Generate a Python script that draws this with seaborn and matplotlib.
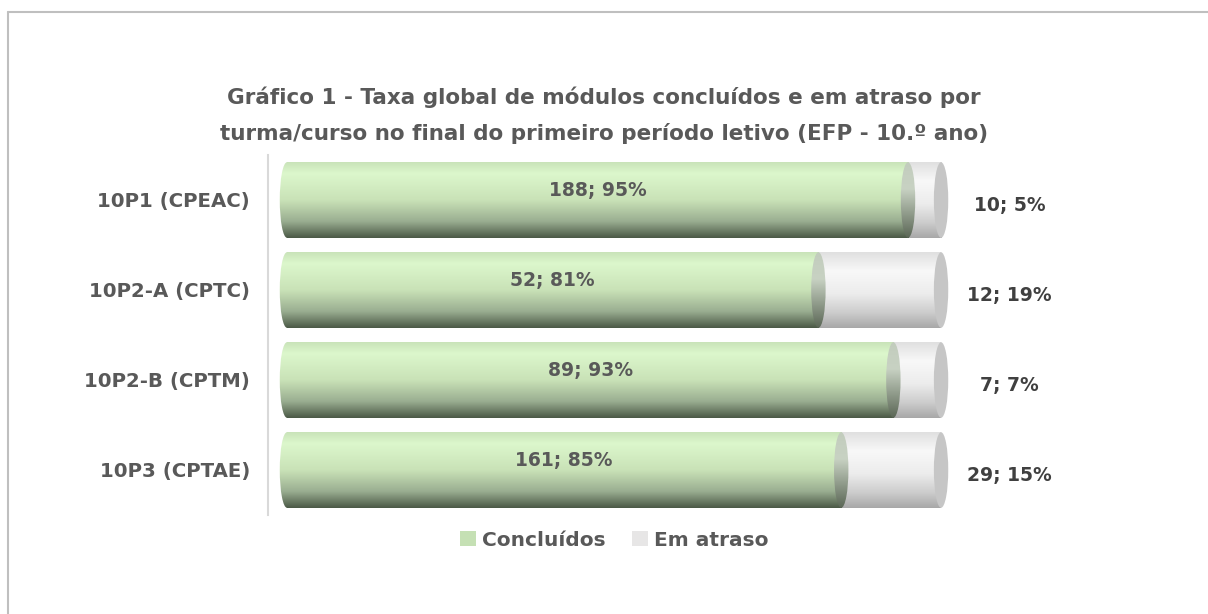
import numpy as np
import pandas as pd
import seaborn as sns
import matplotlib.pyplot as plt
from matplotlib.colors import LinearSegmentedColormap
from matplotlib.patches import Ellipse, Rectangle, Patch

# data
turmas = ['10P1 (CPEAC)', '10P2-A (CPTC)', '10P2-B (CPTM)', '10P3 (CPTAE)']
concluidos = [188, 52, 89, 161]
em_atraso = [10, 12, 7, 29]

df = pd.DataFrame({'Turma': turmas, 'Concluídos': concluidos, 'Em atraso': em_atraso})
df['Total'] = df['Concluídos'] + df['Em atraso']
df['pct_c'] = df['Concluídos'] / df['Total']
df['pct_a'] = df['Em atraso'] / df['Total']
df['um'] = 1.0

sns.set_theme(style='white')
plt.rcParams['font.family'] = ['DejaVu Sans']
txt = '#595959'

fig = plt.figure(figsize=(12.08, 6.14), dpi=100)
ax = fig.add_axes([268 / 1208, 1 - 515 / 614, (1100 - 268) / 1208, 360 / 614])

bar_h = 0.84
sns.barplot(data=df, y='Turma', x='um', orient='h', color='#e7e6e6', width=bar_h, ax=ax)
sns.barplot(data=df, y='Turma', x='pct_c', orient='h', color='#c5e0b4', width=bar_h, ax=ax)

green = LinearSegmentedColormap.from_list('g', [(0, '#c9e3b9'), (0.15, '#dcf7cc'), (0.5, '#c9e2b7'),
                                                (0.78, '#9aae91'), (1, '#4b5946')])
grey = LinearSegmentedColormap.from_list('w', [(0, '#e0e0e0'), (0.25, '#f8f8f8'), (0.55, '#ececec'),
                                               (0.8, '#cccccc'), (1, '#a8a8a8')])
cap = LinearSegmentedColormap.from_list('c', [(0, '#c2ccbd'), (0.35, '#c8d2c3'), (1, '#5a6655')])
grad = np.linspace(0, 1, 256).reshape(-1, 1)
cap_w = 0.022


def fill(patch, cmap, x0, x1, y0, y1, z):
    ax.add_patch(patch)
    patch.set_visible(False)
    im = ax.imshow(grad, cmap=cmap, extent=(x0, x1, y1, y0), aspect='auto',
                   origin='upper', zorder=z, interpolation='bilinear')
    im.set_clip_path(patch)


for i, row in df.iterrows():
    y0, y1 = i - bar_h / 2, i + bar_h / 2
    p = row['pct_c']
    # grey part + its end
    fill(Rectangle((p, y0), 1 - p, bar_h), grey, p, 1, y0, y1, 2)
    ax.add_patch(Ellipse((1, i), cap_w, bar_h, facecolor='#c6c6c6', edgecolor='none', zorder=3))
    # green part, rounded left side
    fill(Rectangle((0, y0), p, bar_h), green, 0, p, y0, y1, 4)
    fill(Ellipse((0, i), cap_w, bar_h), green, -cap_w, cap_w, y0, y1, 4)
    fill(Ellipse((p, i), cap_w, bar_h), cap, p - cap_w, p + cap_w, y0, y1, 5)

    ax.text(p / 2, i - 0.11, f"{row['Concluídos']}; {row['pct_c']:.0%}", ha='center', va='center',
            fontsize=13.5, fontweight='bold', color=txt, zorder=6)
    ax.text(1.105, i + 0.06, f"{row['Em atraso']}; {row['pct_a']:.0%}", ha='center', va='center',
            fontsize=13.5, fontweight='bold', color='#404040', zorder=6)

for b in ax.patches[:8]:
    b.set_visible(False)

ax.set_xlim(-0.029, 1.243)
ax.set_ylim(3.5, -0.5)
ax.set_xlabel('')
ax.set_ylabel('')
ax.set_xticks([])
ax.tick_params(axis='y', length=0, pad=13, labelsize=14.2, labelcolor=txt)
for lbl in ax.get_yticklabels():
    lbl.set_fontweight('bold')
for s in ['top', 'right', 'bottom']:
    ax.spines[s].set_visible(False)
ax.spines['left'].set_color('#d9d9d9')
ax.spines['left'].set_linewidth(1.5)

fig.text(604 / 1208, 1 - 97 / 614, 'Gráfico 1 - Taxa global de módulos concluídos e em atraso por',
         ha='center', va='center', fontsize=15.5, fontweight='bold', color=txt)
fig.text(604 / 1208, 1 - 133 / 614, 'turma/curso no final do primeiro período letivo (EFP - 10.º ano)',
         ha='center', va='center', fontsize=15.5, fontweight='bold', color=txt)

handles = [Patch(facecolor='#c5e0b4', edgecolor='none'), Patch(facecolor='#e7e6e6', edgecolor='none')]
fig.legend(handles, ['Concluídos', 'Em atraso'], loc='center', bbox_to_anchor=(614 / 1208, 1 - 540 / 614),
           ncol=2, frameon=False, handlelength=0.8, handleheight=0.8, handletextpad=0.3,
           columnspacing=1.3, prop={'weight': 'bold', 'size': 14.5}, labelcolor=txt)

# chart frame (only top and left edges fall inside the image)
fig.add_artist(plt.Line2D([8 / 1208, 1], [1 - 12 / 614] * 2, color='#bfbfbf', lw=1.5))
fig.add_artist(plt.Line2D([8 / 1208] * 2, [0, 1 - 12 / 614], color='#bfbfbf', lw=1.5))

fig.savefig('out.png', dpi=100)
